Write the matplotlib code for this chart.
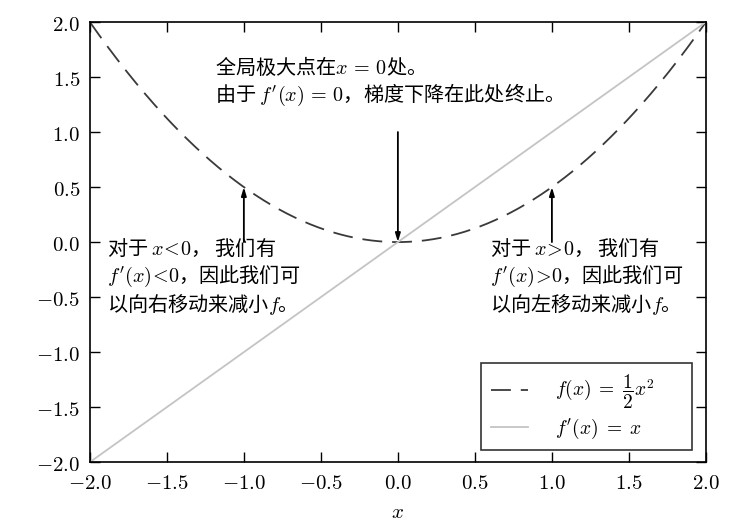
import numpy as np
import matplotlib
matplotlib.use("Agg")
import matplotlib.pyplot as plt
from matplotlib.ticker import FuncFormatter

plt.rcParams["mathtext.fontset"] = "cm"
plt.rcParams["font.family"] = ["Noto Sans CJK SC", "DejaVu Sans"]
plt.rcParams["axes.unicode_minus"] = True

# data
x = np.linspace(-2, 2, 401)
f = 0.5 * x ** 2
df = x
xticks = [-2.0, -1.5, -1.0, -0.5, 0.0, 0.5, 1.0, 1.5, 2.0]
yticks = [-2.0, -1.5, -1.0, -0.5, 0.0, 0.5, 1.0, 1.5, 2.0]

label_f = r"$f(x)\;=\;\dfrac{1}{2}x^2$"
label_df = r"$f'(x)\;=\;x$"
text_top = "全局极大点在$x\\,=\\,0$处。\n由于 $f'(x)\\,=\\,0$，梯度下降在此处终止。"
text_left = "对于 $x\\!<\\!0$， 我们有\n$f'(x)\\!<\\!0$，因此我们可\n以向右移动来减小$f$。"
text_right = "对于 $x\\!>\\!0$， 我们有\n$f'(x)\\!>\\!0$，因此我们可\n以向左移动来减小$f$。"

fig = plt.figure(figsize=(7.55, 5.24), dpi=100)
ax = fig.add_axes([0.119, 0.118, 0.816, 0.840])

ax.plot(x, f, color="#3a3a3a", lw=1.3, dashes=(11, 5.5), label=label_f)
ax.plot(x, df, color="#c4c4c4", lw=1.3, label=label_df)

ax.set_xlim(-2, 2)
ax.set_ylim(-2, 2)
ax.set_xticks(xticks)
ax.set_yticks(yticks)
fmt = FuncFormatter(lambda v, p: r"$%.1f$" % v)
ax.xaxis.set_major_formatter(fmt)
ax.yaxis.set_major_formatter(fmt)
ax.tick_params(direction="in", length=7, width=1, top=True, right=True,
               labelsize=15, pad=7)
for sp in ax.spines.values():
    sp.set_linewidth(1.2)
ax.set_xlabel(r"$x$", fontsize=15, labelpad=5)

arrow = dict(arrowstyle="-|>,head_length=0.5,head_width=0.15", color="black",
             lw=1.3, shrinkA=0, shrinkB=0)
ax.annotate("", xy=(-1, 0.5), xytext=(-1, 0.0), arrowprops=arrow)
ax.annotate("", xy=(1, 0.5), xytext=(1, 0.0), arrowprops=arrow)
ax.annotate("", xy=(0, 0.0), xytext=(0, 1.0), arrowprops=arrow)

ax.text(-1.89, 0.04, text_left, fontsize=14.5, va="top", ha="left", linespacing=1.2)
ax.text(0.6, 0.04, text_right, fontsize=14.5, va="top", ha="left", linespacing=1.2)
ax.text(-1.19, 1.69, text_top, fontsize=14.5, va="top", ha="left", linespacing=1.15)

leg = ax.legend(loc="lower left", bbox_to_anchor=(0.635, 0.027, 0.342, 0.2),
                mode="expand", borderaxespad=0, fontsize=14, frameon=True,
                fancybox=False, edgecolor="black", handlelength=1.9,
                borderpad=0.5, labelspacing=0.3, handletextpad=1.4)
leg.get_frame().set_linewidth(1.2)

fig.savefig("out.png", dpi=100)
